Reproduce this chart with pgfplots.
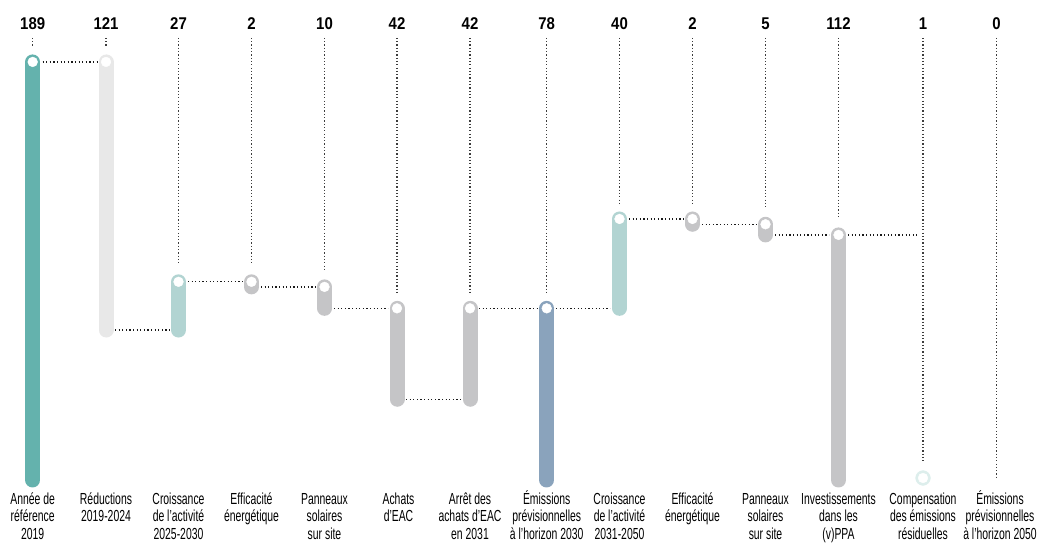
\documentclass[border=0pt]{standalone}
\usepackage{pgfplots}
\pgfplotsset{compat=1.18}
\usepackage{fontspec}
\setmainfont{Liberation Sans}[FakeStretch=0.65]
\newfontfamily\numfont{Liberation Sans}[FakeStretch=0.88]
\definecolor{cA}{HTML}{64B2AD}
\definecolor{cB}{HTML}{E8E8E8}
\definecolor{cC}{HTML}{B2D4D2}
\definecolor{cD}{HTML}{C5C5C7}
\definecolor{cE}{HTML}{8AA3BC}
\definecolor{cF}{HTML}{DDEEEC}
\definecolor{dotc}{HTML}{1A1A1A}
\tikzset{
  bar/.style={line width=15pt,line cap=round},
  conn/.style={dotc,line width=1.25pt,dash pattern=on 1.2pt off 2.4pt},
  vconn/.style={dotc!85,line width=1.25pt,dash pattern=on 1.2pt off 2.1pt},
  val/.style={anchor=base,font=\numfont\bfseries\fontsize{17}{18}\selectfont},
  lab/.style={anchor=north,align=center,inner sep=0pt,font=\fontsize{16}{17.5}\selectfont}}
\begin{document}
\begin{tikzpicture}
\begin{axis}[width=1043pt,height=551pt,scale only axis,
  xmin=0,xmax=1043,ymin=-32.1,ymax=217,hide axis,clip=false]
\path (rel axis cs:0,0) rectangle (rel axis cs:1,1);
% vertical dotted guides
\addplot[vconn] coordinates {(32.7,199.9)(32.7,195.5)};
\addplot[vconn] coordinates {(106,199.9)(106,195.5)};
\addplot[vconn] coordinates {(178.5,199.9)(178.5,97)};
\addplot[vconn] coordinates {(251.5,199.9)(251.5,97)};
\addplot[vconn] coordinates {(324.5,199.9)(324.5,94.5)};
\addplot[vconn] coordinates {(397,199.9)(397,84.8)};
\addplot[vconn] coordinates {(470,199.9)(470,84.8)};
\addplot[vconn] coordinates {(546.7,199.9)(546.7,84.8)};
\addplot[vconn] coordinates {(619.5,199.9)(619.5,125.2)};
\addplot[vconn] coordinates {(692.5,199.9)(692.5,125.2)};
\addplot[vconn] coordinates {(765.5,199.9)(765.5,123)};
\addplot[vconn] coordinates {(838.5,199.9)(838.5,118)};
\addplot[vconn] coordinates {(923,199.9)(923,7.8)};
\addplot[vconn] coordinates {(996.5,199.9)(996.5,0.4)};
% horizontal connectors
\addplot[conn] coordinates {(42.5,189)(97,189)};
\addplot[conn] coordinates {(115,67.8)(170,67.8)};
\addplot[conn] coordinates {(188,89.6)(243,89.6)};
\addplot[conn] coordinates {(261,87.3)(316,87.3)};
\addplot[conn] coordinates {(334,77.6)(388,77.6)};
\addplot[conn] coordinates {(406,36.5)(461,36.5)};
\addplot[conn] coordinates {(479,77.6)(538,77.6)};
\addplot[conn] coordinates {(556,77.6)(610,77.6)};
\addplot[conn] coordinates {(629,118)(684,118)};
\addplot[conn] coordinates {(702,115.6)(757,115.6)};
\addplot[conn] coordinates {(775,110.8)(829,110.8)};
\addplot[conn] coordinates {(848,110.8)(917,110.8)};
% bars
\addplot[bar,cA] coordinates {(32.7,189)(32.7,0)};
\addplot[bar,cB] coordinates {(106,189)(106,67.8)};
\addplot[bar,cC] coordinates {(178.5,89.6)(178.5,67.8)};
\addplot[bar,cD] coordinates {(251.5,89.6)(251.5,87.3)};
\addplot[bar,cD] coordinates {(324.5,87.3)(324.5,77.6)};
\addplot[bar,cD] coordinates {(397,77.6)(397,36.5)};
\addplot[bar,cD] coordinates {(470,77.6)(470,36.5)};
\addplot[bar,cE] coordinates {(546.7,77.6)(546.7,0)};
\addplot[bar,cC] coordinates {(619.5,118)(619.5,77.6)};
\addplot[bar,cD] coordinates {(692.5,118)(692.5,115.6)};
\addplot[bar,cD] coordinates {(765.5,115.6)(765.5,110.8)};
\addplot[bar,cD] coordinates {(838.5,110.8)(838.5,0)};
\addplot[only marks,mark=*,mark size=7.4pt,color=cF] coordinates {(923,0.9)};
% white circles
\addplot[only marks,mark=*,mark size=4.9pt,color=white] coordinates {
(32.7,189)(106,189)(178.5,89.6)(251.5,89.6)(324.5,87.3)(397,77.6)(470,77.6)
(546.7,77.6)(619.5,118)(692.5,118)(765.5,115.6)(838.5,110.8)(923,0.9)};
% values
\node[val] at (axis cs:32.7,203.5) {189};
\node[val] at (axis cs:106,203.5) {121};
\node[val] at (axis cs:178.5,203.5) {27};
\node[val] at (axis cs:251.5,203.5) {2};
\node[val] at (axis cs:324.5,203.5) {10};
\node[val] at (axis cs:397,203.5) {42};
\node[val] at (axis cs:470,203.5) {42};
\node[val] at (axis cs:546.7,203.5) {78};
\node[val] at (axis cs:619.5,203.5) {40};
\node[val] at (axis cs:692.5,203.5) {2};
\node[val] at (axis cs:765.5,203.5) {5};
\node[val] at (axis cs:838.5,203.5) {112};
\node[val] at (axis cs:923,203.5) {1};
\node[val] at (axis cs:996.5,203.5) {0};
% labels
\node[lab] at (axis cs:32.7,-4.07) {\rule{0pt}{15pt}Année de\\référence\\2019};
\node[lab] at (axis cs:106,-4.07) {\rule{0pt}{15pt}Réductions\\2019-2024};
\node[lab] at (axis cs:178.5,-4.07) {\rule{0pt}{15pt}Croissance\\de l’activité\\2025-2030};
\node[lab] at (axis cs:251.5,-4.07) {\rule{0pt}{15pt}Efficacité\\énergétique};
\node[lab] at (axis cs:324.5,-4.07) {\rule{0pt}{15pt}Panneaux\\solaires\\sur site};
\node[lab] at (axis cs:398.5,-4.07) {\rule{0pt}{15pt}Achats\\d’EAC};
\node[lab] at (axis cs:470,-4.07) {\rule{0pt}{15pt}Arrêt des\\achats d’EAC\\en 2031};
\node[lab] at (axis cs:546.7,-4.07) {\rule{0pt}{15pt}Émissions\\prévisionnelles\\à l’horizon 2030};
\node[lab] at (axis cs:619.5,-4.07) {\rule{0pt}{15pt}Croissance\\de l’activité\\2031-2050};
\node[lab] at (axis cs:692.5,-4.07) {\rule{0pt}{15pt}Efficacité\\énergétique};
\node[lab] at (axis cs:765.5,-4.07) {\rule{0pt}{15pt}Panneaux\\solaires\\sur site};
\node[lab] at (axis cs:838.5,-4.07) {\rule{0pt}{15pt}Investissements\\dans les\\(v)PPA};
\node[lab] at (axis cs:923,-4.07) {\rule{0pt}{15pt}Compensation\\des émissions\\résiduelles};
\node[lab] at (axis cs:1000,-4.07) {\rule{0pt}{15pt}Émissions\\prévisionnelles\\à l’horizon 2050};
\end{axis}
\end{tikzpicture}
\end{document}
